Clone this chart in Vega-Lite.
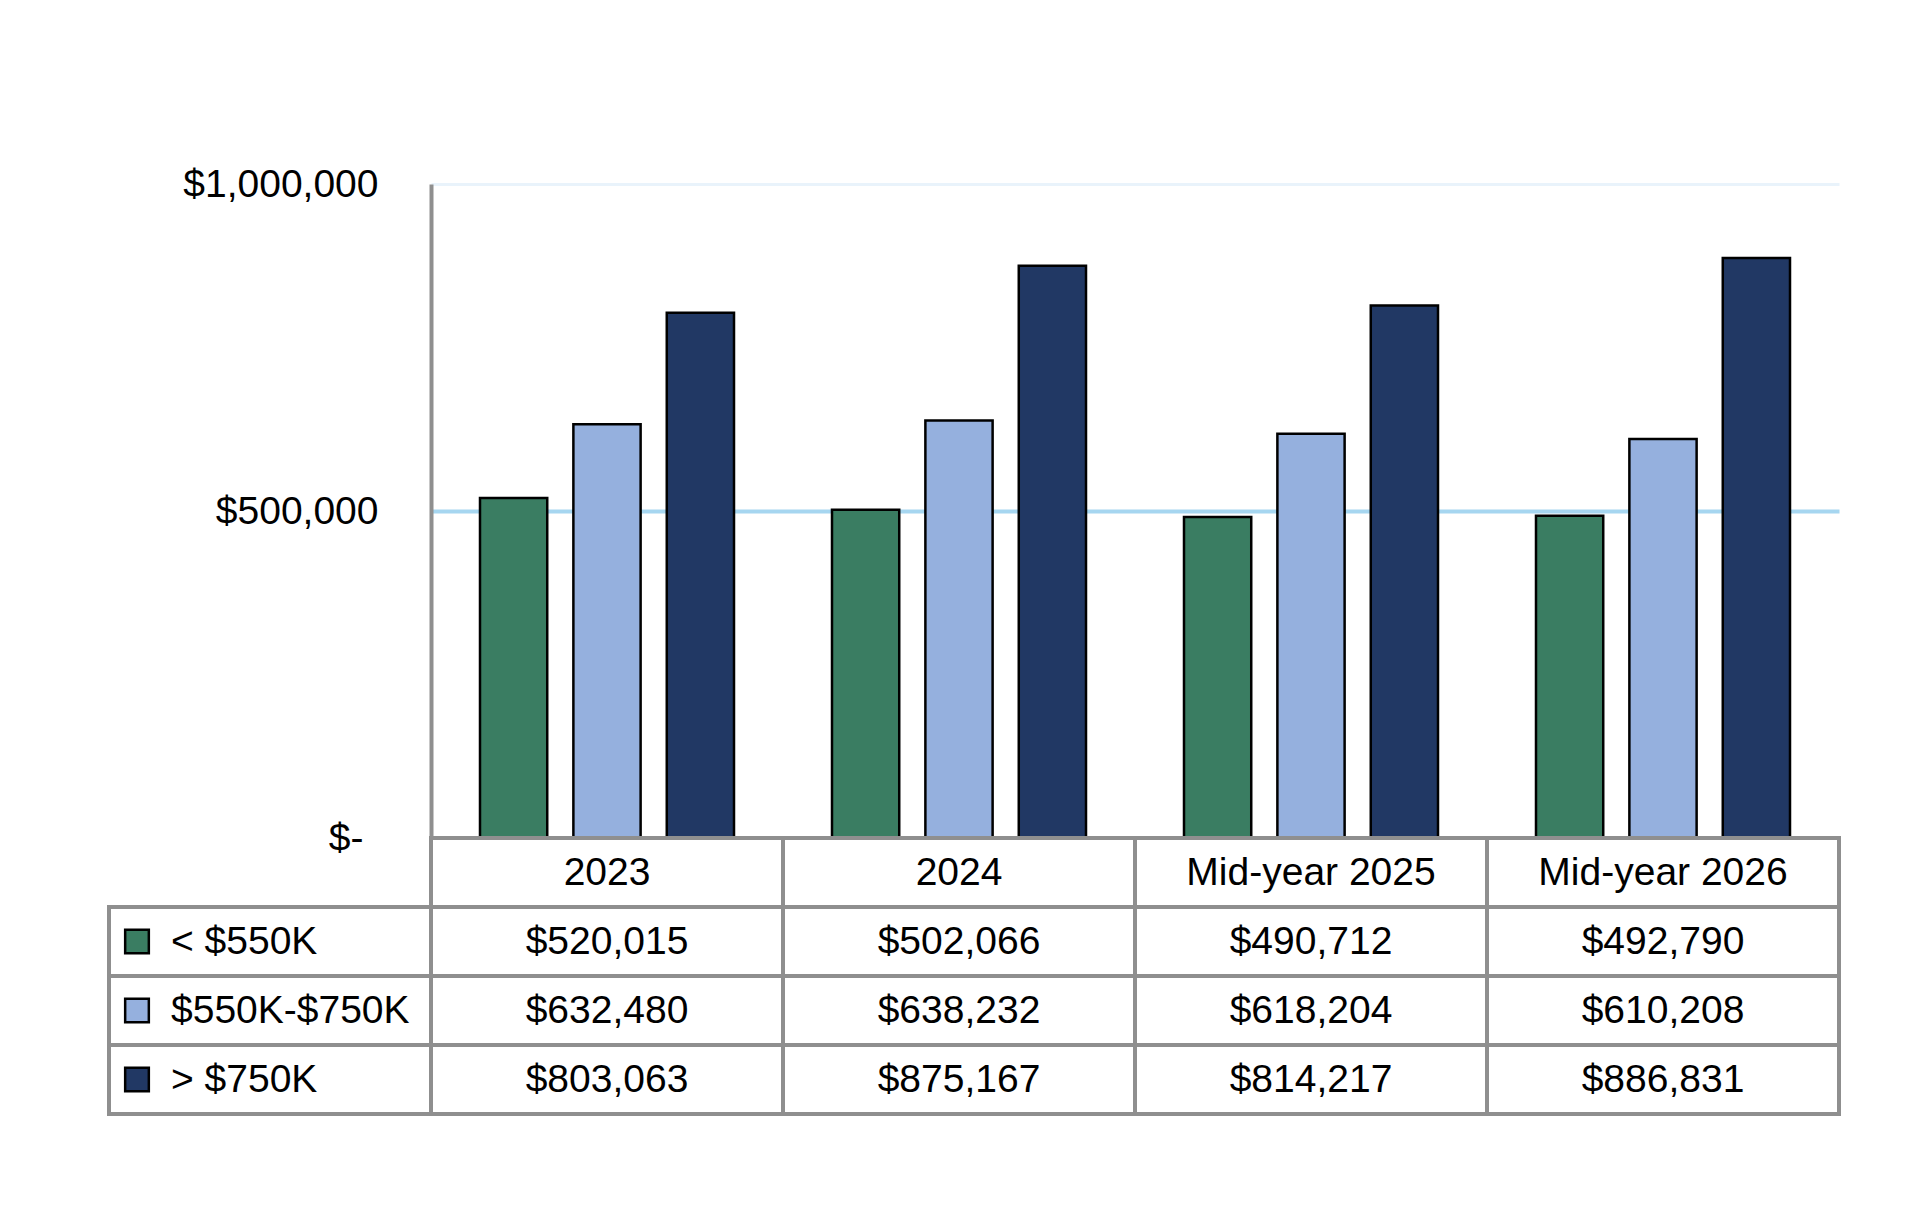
{
  "$schema": "https://vega.github.io/schema/vega-lite/v6.json",
  "description": "Median price by price band, with data table",
  "padding": {"left": 107, "top": 165, "right": 20, "bottom": 20},
  "config": {
    "view": {"stroke": null},
    "font": "Liberation Sans",
    "text": {"font": "Liberation Sans", "fontSize": 39, "color": "#000000"}
  },
  "data": {
    "values": [
      {"period": "2023", "band": "< $550K", "value": 520015},
      {"period": "2023", "band": "$550K-$750K", "value": 632480},
      {"period": "2023", "band": "> $750K", "value": 803063},
      {"period": "2024", "band": "< $550K", "value": 502066},
      {"period": "2024", "band": "$550K-$750K", "value": 638232},
      {"period": "2024", "band": "> $750K", "value": 875167},
      {"period": "Mid-year 2025", "band": "< $550K", "value": 490712},
      {"period": "Mid-year 2025", "band": "$550K-$750K", "value": 618204},
      {"period": "Mid-year 2025", "band": "> $750K", "value": 814217},
      {"period": "Mid-year 2026", "band": "< $550K", "value": 492790},
      {"period": "Mid-year 2026", "band": "$550K-$750K", "value": 610208},
      {"period": "Mid-year 2026", "band": "> $750K", "value": 886831}
    ]
  },
  "columns": 2,
  "spacing": 0,
  "bounds": "flush",
  "align": "each",
  "resolve": {"scale": {"x": "independent", "y": "independent", "xOffset": "independent"}},
  "concat": [
    {
      "width": 322,
      "height": 654,
      "mark": {"type": "text", "text": ""},
      "encoding": {}
    },
    {
      "width": 1408,
      "height": 654,
      "mark": {"type": "bar", "stroke": "#000000", "strokeWidth": 2.5},
      "encoding": {
        "x": {
          "field": "period",
          "type": "nominal",
          "sort": null,
          "axis": null,
          "scale": {"paddingInner": 0.2784, "paddingOuter": 0.1392}
        },
        "xOffset": {
          "field": "band",
          "type": "nominal",
          "sort": ["< $550K", "$550K-$750K", "> $750K"],
          "scale": {"paddingInner": 0.28, "paddingOuter": 0}
        },
        "y": {
          "field": "value",
          "type": "quantitative",
          "scale": {"domain": [0, 1000000], "nice": false},
          "axis": {
            "values": [0, 500000, 1000000],
            "title": null,
            "ticks": false,
            "labelExpr": "datum.value == 0 ? '$-' : format(datum.value, '$,.0f')",
            "labelFont": "Liberation Sans",
            "labelFontSize": 39,
            "labelColor": "#000000",
            "labelLimit": 0,
            "labelPadding": {
              "condition": {"test": "datum.value == 0", "value": 68},
              "value": 53
            },
            "domainColor": "#8f8f8f",
            "domainWidth": 4,
            "grid": true,
            "gridColor": {
              "condition": {"test": "datum.value == 1000000", "value": "#e9f3fb"},
              "value": "#a6d6f0"
            },
            "gridWidth": {
              "condition": {"test": "datum.value == 1000000", "value": 3},
              "value": 4
            }
          }
        },
        "color": {
          "field": "band",
          "type": "nominal",
          "scale": {
            "domain": ["< $550K", "$550K-$750K", "> $750K"],
            "range": ["#3a7d62", "#95b0de", "#213864"]
          },
          "legend": null
        }
      }
    },
    {
      "width": 322,
      "height": 276,
      "encoding": {
        "y": {
          "field": "band",
          "type": "nominal",
          "axis": null,
          "scale": {
            "domain": ["hdr", "< $550K", "$550K-$750K", "> $750K"],
            "paddingInner": 0,
            "paddingOuter": 0
          }
        }
      },
      "layer": [
        {
          "transform": [{"filter": "datum.period == '2023'"}],
          "mark": {"type": "rect", "fill": "#ffffff", "stroke": "#8f8f8f", "strokeWidth": 4}
        },
        {
          "transform": [{"filter": "datum.period == '2023'"}],
          "mark": {"type": "square", "size": 560, "opacity": 1, "stroke": "#000000", "strokeWidth": 2.5},
          "encoding": {
            "x": {"value": 28},
            "color": {"field": "band", "type": "nominal", "legend": null}
          }
        },
        {
          "transform": [{"filter": "datum.period == '2023'"}],
          "mark": {"type": "text", "align": "left", "baseline": "middle", "fontSize": 39},
          "encoding": {
            "x": {"value": 62},
            "text": {"field": "band"}
          }
        }
      ]
    },
    {
      "width": 1408,
      "height": 276,
      "encoding": {
        "x": {
          "field": "period",
          "type": "nominal",
          "sort": null,
          "axis": null,
          "scale": {"paddingInner": 0, "paddingOuter": 0}
        },
        "y": {
          "field": "band",
          "type": "nominal",
          "axis": null,
          "scale": {
            "domain": ["hdr", "< $550K", "$550K-$750K", "> $750K"],
            "paddingInner": 0,
            "paddingOuter": 0
          }
        }
      },
      "layer": [
        {
          "mark": {"type": "rect", "fill": "#ffffff", "stroke": "#8f8f8f", "strokeWidth": 4}
        },
        {
          "transform": [{"filter": "datum.band == '< $550K'"}],
          "mark": {"type": "rect", "fill": "#ffffff", "stroke": "#8f8f8f", "strokeWidth": 4},
          "encoding": {"y": {"datum": "hdr"}}
        },
        {
          "mark": {"type": "text", "align": "center", "baseline": "middle", "fontSize": 39},
          "encoding": {
            "text": {"field": "value", "type": "quantitative", "format": "$,.0f"}
          }
        },
        {
          "transform": [{"filter": "datum.band == '< $550K'"}],
          "mark": {"type": "text", "align": "center", "baseline": "middle", "fontSize": 39},
          "encoding": {
            "y": {"datum": "hdr"},
            "text": {"field": "period"}
          }
        }
      ]
    }
  ]
}
